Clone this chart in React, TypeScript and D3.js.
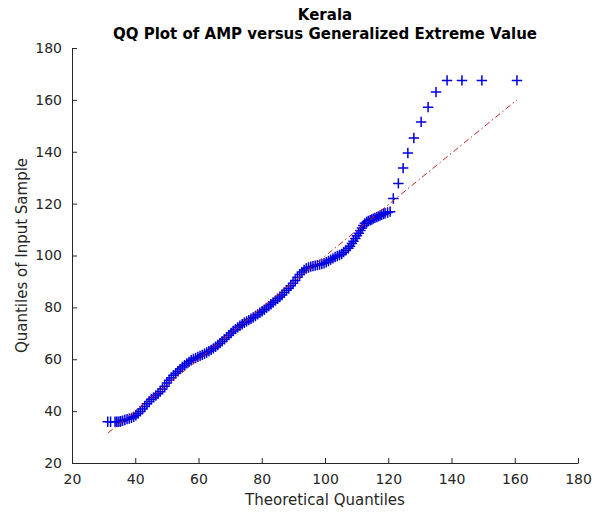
import React, { useEffect, useRef } from "react";
import * as d3 from "d3";

const titleLines = ["Kerala", "QQ Plot of AMP versus Generalized Extreme Value"];
const xLabel = "Theoretical Quantiles";
const yLabel = "Quantiles of Input Sample";
const xTicks = [20, 40, 60, 80, 100, 120, 140, 160, 180];
const yTicks = [20, 40, 60, 80, 100, 120, 140, 160, 180];

// Theoretical quantiles (x) and sorted sample quantiles (y)
const theoretical = [
  31.3, 32.2, 33.6, 34.1, 34.6, 35.2, 35.4, 36.0, 36.7, 37.4, 38.1, 38.8, 39.5, 40.2, 40.9, 41.6,
  42.3, 43.0, 43.7, 44.4, 45.1, 45.8, 46.5, 47.2, 47.9, 48.6, 49.3, 50.0, 50.7, 51.4, 52.1, 52.8,
  53.5, 54.2, 54.9, 55.6, 56.3, 57.0, 57.7, 58.4, 59.1, 59.8, 60.5, 61.2, 61.9, 62.6, 63.3, 64.0,
  64.7, 65.4, 66.1, 66.8, 67.5, 68.2, 68.9, 69.6, 70.3, 71.0, 71.7, 72.4, 73.1, 73.8, 74.5, 75.2,
  75.9, 76.6, 77.3, 78.0, 78.7, 79.4, 80.1, 80.8, 81.5, 82.2, 82.9, 83.6, 84.3, 85.0, 85.7, 86.4,
  87.1, 87.8, 88.5, 89.2, 89.9, 90.6, 91.3, 92.0, 92.7, 93.4, 94.1, 94.8, 95.5, 96.2, 96.9, 97.6,
  98.3, 99.0, 99.7, 100.4, 101.1, 101.8, 102.5, 103.2, 103.9, 104.6, 105.3, 105.9, 106.6, 107.4,
  107.9, 108.5, 109.0, 109.6, 110.1, 110.7, 111.2, 111.7, 112.1, 112.6, 113.2, 113.7, 114.3, 114.8,
  115.3, 115.8, 116.4, 116.9, 117.4, 117.9, 118.5, 119.0, 119.8, 120.6, 121.6, 123.2, 124.7, 126.2,
  128.1, 130.4, 132.6, 135.1, 138.6, 143.3, 149.6, 160.7,
];
const sample = [
  35.9, 35.9, 35.9, 35.9, 35.9, 36.0, 36.1, 36.3, 36.6, 36.9, 37.1, 37.4, 37.8, 38.4, 39.1, 39.9,
  40.8, 41.8, 42.8, 43.7, 44.6, 45.3, 46.0, 46.7, 47.5, 48.5, 49.6, 50.8, 51.9, 52.9, 53.8, 54.6,
  55.4, 56.2, 57.0, 57.7, 58.4, 59.0, 59.6, 60.1, 60.5, 60.9, 61.3, 61.7, 62.1, 62.6, 63.1, 63.6,
  64.2, 64.8, 65.5, 66.2, 66.9, 67.7, 68.5, 69.3, 70.1, 70.9, 71.6, 72.3, 72.9, 73.5, 74.1, 74.6,
  75.1, 75.6, 76.1, 76.7, 77.3, 77.9, 78.5, 79.1, 79.8, 80.5, 81.2, 81.9, 82.6, 83.3, 84.0, 84.8,
  85.7, 86.6, 87.4, 88.3, 89.3, 90.4, 91.6, 92.7, 93.6, 94.4, 95.0, 95.4, 95.7, 95.9, 96.1, 96.3,
  96.5, 96.7, 97.0, 97.4, 97.9, 98.4, 98.9, 99.4, 99.8, 100.2, 100.6, 101.3, 102.0, 102.8,
  103.6, 104.6, 105.5, 106.6, 107.6, 108.6, 109.6, 110.6, 111.6, 112.4, 112.9, 113.3, 113.6, 113.9,
  114.2, 114.5, 114.8, 115.1, 115.4, 115.7, 116.0, 116.3, 116.6, 116.9, 122.0, 127.8, 133.7, 139.5,
  145.3, 151.5, 157.2, 163.0, 167.5, 167.5, 167.5, 167.5,
];

// Reference line endpoints
const refX = [31.4, 160.7];
const refY = [31.6, 160.0];

const W = 604;
const H = 518;
const FONT = "'DejaVu Sans', sans-serif";

export default function App() {
  const ref = useRef<SVGSVGElement | null>(null);

  useEffect(() => {
    document.body.style.margin = "0";
    const svg = d3.select(ref.current);
    svg.selectAll("*").remove();

    const x = d3.scaleLinear().domain([20, 180]).range([72, 578]);
    const y = d3.scaleLinear().domain([20, 180]).range([463, 48]);
    const axisColor = "#262626";

    // x axis
    const gx = svg
      .append("g")
      .attr("transform", `translate(0,${y(20)})`)
      .call(
        d3
          .axisBottom(x)
          .tickValues(xTicks)
          .tickSizeInner(-5)
          .tickSizeOuter(0)
          .tickPadding(11)
      );
    gx.selectAll("path,line").attr("stroke", axisColor);
    gx.selectAll("text")
      .attr("fill", axisColor)
      .style("font-family", FONT)
      .style("font-size", "14px");

    // y axis
    const gy = svg
      .append("g")
      .attr("transform", `translate(${x(20)},0)`)
      .call(
        d3
          .axisLeft(y)
          .tickValues(yTicks)
          .tickSizeInner(-5)
          .tickSizeOuter(0)
          .tickPadding(10)
      );
    gy.selectAll("path,line").attr("stroke", axisColor);
    gy.selectAll("text")
      .attr("fill", axisColor)
      .style("font-family", FONT)
      .style("font-size", "14px");

    // markers
    const pts = theoretical.map((t, i) => [t, sample[i]] as [number, number]);
    const s = 5.2;
    const cross = (d: [number, number]) => {
      const cx = x(d[0]);
      const cy = y(d[1]);
      return `M${cx - s},${cy}H${cx + s}M${cx},${cy - s}V${cy + s}`;
    };
    svg
      .append("g")
      .selectAll("path")
      .data(pts)
      .join("path")
      .attr("d", cross)
      .attr("stroke", "#0000e0")
      .attr("stroke-width", 1.5)
      .attr("fill", "none");

    // reference line
    const refPts = refX.map((v, i) => [v, refY[i]] as [number, number]);
    svg
      .append("path")
      .datum(refPts)
      .attr(
        "d",
        d3
          .line<[number, number]>()
          .x((d) => x(d[0]))
          .y((d) => y(d[1]))
      )
      .attr("stroke", "#cc2020")
      .attr("stroke-width", 1)
      .attr("stroke-dasharray", "6,3,1.5,3")
      .attr("fill", "none");

    // titles
    const cx = (x(20) + x(180)) / 2;
    svg
      .append("text")
      .attr("x", cx)
      .attr("y", 20)
      .attr("text-anchor", "middle")
      .style("font-family", FONT)
      .style("font-size", "15px")
      .style("font-weight", "bold")
      .attr("fill", "#000")
      .text(titleLines[0]);
    svg
      .append("text")
      .attr("x", cx)
      .attr("y", 39)
      .attr("text-anchor", "middle")
      .style("font-family", FONT)
      .style("font-size", "15px")
      .style("font-weight", "bold")
      .attr("fill", "#000")
      .text(titleLines[1]);

    svg
      .append("text")
      .attr("x", cx)
      .attr("y", 505)
      .attr("text-anchor", "middle")
      .style("font-family", FONT)
      .style("font-size", "15px")
      .attr("fill", axisColor)
      .text(xLabel);

    svg
      .append("text")
      .attr("transform", `translate(27,${(y(20) + y(180)) / 2}) rotate(-90)`)
      .attr("text-anchor", "middle")
      .style("font-family", FONT)
      .style("font-size", "15px")
      .attr("fill", axisColor)
      .text(yLabel);
  }, []);

  return (
    <svg
      ref={ref}
      width={W}
      height={H}
      style={{ display: "block", background: "#fff" }}
    />
  );
}
